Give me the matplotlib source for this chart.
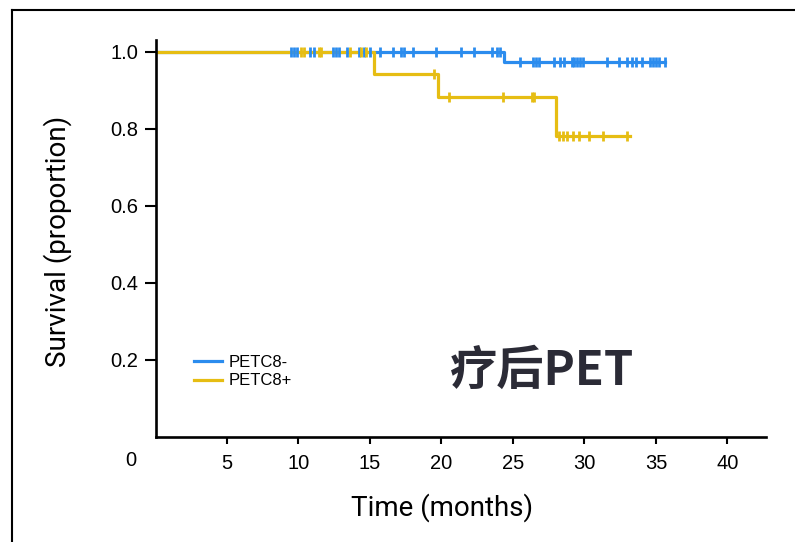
import numpy as np
import matplotlib.pyplot as plt
from matplotlib.lines import Line2D

# Kaplan-Meier steps: event times and survival after each step
neg_times = [0, 24.4]
neg_surv = [1.0, 0.973]
neg_end = 35.6
neg_censor = [9.5, 9.7, 9.9, 10.8, 11.1, 12.4, 12.6, 12.8, 13.4, 14.2, 14.6,
              15.0, 15.7, 16.6, 17.2, 17.4, 18.0, 19.6, 21.4, 22.3, 23.5,
              23.9, 24.1, 25.5, 26.4, 26.6, 26.8, 27.9, 28.3, 28.6, 29.1,
              29.3, 29.5, 29.7, 29.9, 31.6, 32.4, 33.0, 33.3, 33.6, 34.0,
              34.6, 34.8, 35.0, 35.2, 35.6]

pos_times = [0, 15.3, 19.75, 28.0]
pos_surv = [1.0, 0.941, 0.881, 0.78]
pos_end = 33.2
pos_censor = [10.2, 10.4, 11.4, 11.6, 13.6, 14.4, 14.7, 19.5, 20.5, 24.3,
              26.3, 26.5, 28.2, 28.5, 28.8, 29.2, 29.6, 30.3, 31.3, 33.0]

labels = ["PETC8-", "PETC8+"]
colors = ["#2b8cee", "#e6bd13"]

xticks = [5, 10, 15, 20, 25, 30, 35, 40]
yticks = [0.2, 0.4, 0.6, 0.8, 1.0]


def km_curve(times, surv, end):
    x = np.append(times, end)
    y = np.append(surv, surv[-1])
    return x, y


def surv_at(t, times, surv):
    idx = np.searchsorted(times, t, side="right") - 1
    return np.asarray(surv)[idx]


fig = plt.figure(figsize=(7.95, 5.42), dpi=100)
ax = fig.add_axes([0.1956, 0.1937, 0.768, 0.7325])

groups = [(neg_times, neg_surv, neg_end, neg_censor),
          (pos_times, pos_surv, pos_end, pos_censor)]
for (times, surv, end, cens), lab, col in zip(groups, labels, colors):
    x, y = km_curve(times, surv, end)
    ax.step(x, y, where="post", color=col, lw=2.3, label=lab, zorder=2)
for (times, surv, end, cens), col in zip(groups, colors):
    ax.plot(cens, surv_at(cens, times, surv), ls="none", marker="|",
            ms=6.5, mew=2, color=col, zorder=3)

ax.set_xlim(0, 42.7)
ax.set_ylim(0, 1.03)
ax.set_xticks(xticks)
ax.set_yticks(yticks)
ax.set_yticklabels([f"{v:.1f}" for v in yticks])
for side in ["top", "right"]:
    ax.spines[side].set_visible(False)
for side in ["left", "bottom"]:
    ax.spines[side].set_linewidth(1.9)
ax.tick_params(width=1.5, labelsize=14.5)
ax.tick_params(axis="x", length=5, pad=7)
ax.tick_params(axis="y", length=8, pad=4.5)
for lab in ax.get_xticklabels() + ax.get_yticklabels():
    lab.set_fontfamily("Liberation Sans")
# origin label sits left of the spine
ax.text(-1.71, -0.062, "0", ha="center", va="center", fontsize=14.5,
        family="Liberation Sans", clip_on=False, transform=ax.transData)

ax.set_xlabel("Time (months)", fontsize=20, family="Roboto")
ax.xaxis.set_label_coords(0.469, -0.179)
ax.xaxis.label.set_va("center")
ax.set_ylabel("Survival (proportion)", fontsize=20, family="Roboto")
ax.yaxis.set_label_coords(-0.161, 0.492)
ax.yaxis.label.set_va("center")

ax.legend(loc="center left", bbox_to_anchor=(0.063, 0.1645), frameon=False,
          borderpad=0, borderaxespad=0, handlelength=1.7, handletextpad=0.36,
          labelspacing=0.2, prop={"family": "Liberation Sans", "size": 12})

fig.text(450 / 795, 1 - 385 / 542, "疗后PET", ha="left", va="baseline",
         fontsize=34, fontweight="bold", color="#2b2b36",
         family=["Noto Sans CJK SC", "DejaVu Sans"])

# outer frame (left and top edges)
fx, fy = 12 / 795, 1 - 10 / 542
fig.add_artist(Line2D([fx, fx], [0, fy], color="black", lw=1.5))
fig.add_artist(Line2D([fx, 1], [fy, fy], color="black", lw=1.5))

fig.savefig("out.png", dpi=100)
